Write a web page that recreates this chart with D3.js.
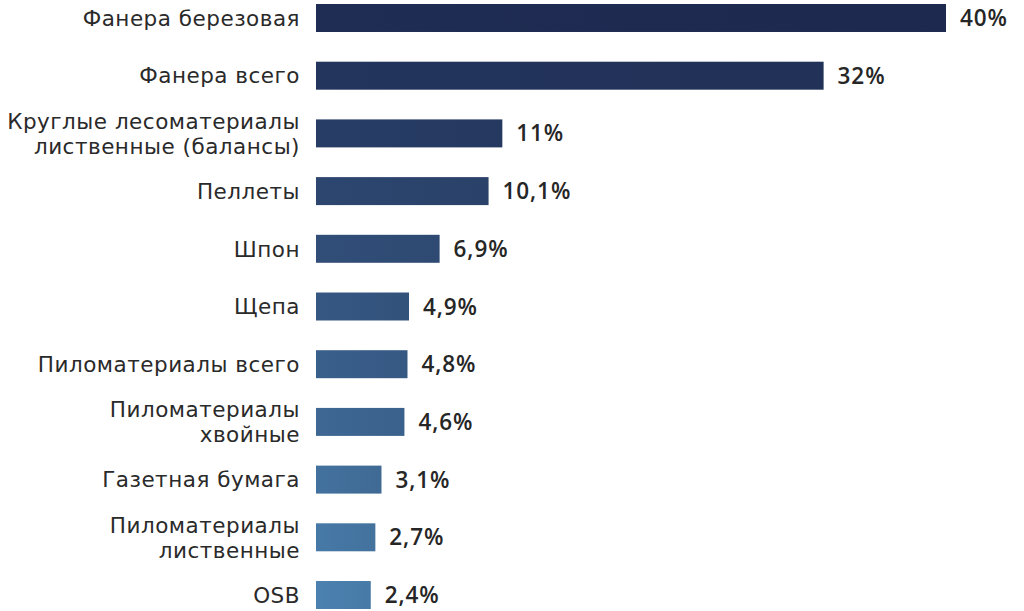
<!DOCTYPE html>
<html><head><meta charset="utf-8">
<script src="https://cdn.jsdelivr.net/npm/d3@7"></script>
<style>html,body{margin:0;padding:0;background:#fff;}</style>
</head><body>
<svg id="c" width="1024" height="611"></svg>
<script>
const categories = [
  ["Фанера березовая"],
  ["Фанера всего"],
  ["Круглые лесоматериалы", "лиственные (балансы)"],
  ["Пеллеты"],
  ["Шпон"],
  ["Щепа"],
  ["Пиломатериалы всего"],
  ["Пиломатериалы", "хвойные"],
  ["Газетная бумага"],
  ["Пиломатериалы", "лиственные"],
  ["OSB"]
];
const values = [40, 32, 11, 10.1, 6.9, 4.9, 4.8, 4.6, 3.1, 2.7, 2.4];
const valueLabels = ["40%", "32%", "11%", "10,1%", "6,9%", "4,9%", "4,8%", "4,6%", "3,1%", "2,7%", "2,4%"];

const svg = d3.select("#c");
const idx = d3.range(values.length);
const x = d3.scaleLinear().domain([-1.18, 40]).range([316, 946]);
const y = d3.scaleBand().domain(idx).range([-11, 624]).paddingInner(0.515).paddingOuter(0.26);
const color = d3.scaleLinear().domain([0, values.length - 1]).range(["#1e2a50", "#487ca9"]).interpolate(d3.interpolateRgb);

const defs = svg.append("defs");
idx.forEach(i => {
  const c = d3.color(color(i));
  const g = defs.append("linearGradient").attr("id", "g" + i);
  g.append("stop").attr("offset", "0%").attr("stop-color", c.brighter(0.12));
  g.append("stop").attr("offset", "100%").attr("stop-color", c.darker(0.05));
});

svg.selectAll("rect.bar").data(idx).join("rect")
  .attr("class", "bar")
  .attr("x", x(x.domain()[0]))
  .attr("y", i => y(i))
  .attr("height", y.bandwidth())
  .attr("width", i => x(values[i]) - x(x.domain()[0]))
  .attr("fill", i => "url(#g" + i + ")");

svg.selectAll("text.val").data(idx).join("text")
  .attr("class", "val")
  .attr("x", i => x(values[i]) + 14)
  .attr("y", i => y(i) + y.bandwidth() / 2)
  .attr("dy", "0.36em")
  .attr("font-family", "'Open Sans', sans-serif")
  .attr("font-weight", 600)
  .attr("font-size", 22.5)
  .attr("letter-spacing", 0.9)
  .attr("fill", "#262626")
  .text(i => valueLabels[i]);

const lines = [];
idx.forEach(i => {
  const n = categories[i].length;
  categories[i].forEach((s, k) => lines.push({i, k, n, s}));
});
svg.selectAll("text.cat").data(lines).join("text")
  .attr("class", "cat")
  .attr("text-anchor", "end")
  .attr("font-family", "'DejaVu Sans', sans-serif")
  .attr("font-size", 21.5)
  .attr("letter-spacing", 0.5)
  .attr("fill", "#2a2a2a")
  .attr("x", 300)
  .attr("y", d => y(d.i) + y.bandwidth() / 2 + (d.k - (d.n - 1) / 2) * 25)
  .attr("dy", "0.36em")
  .text(d => d.s);
</script>
</body></html>
